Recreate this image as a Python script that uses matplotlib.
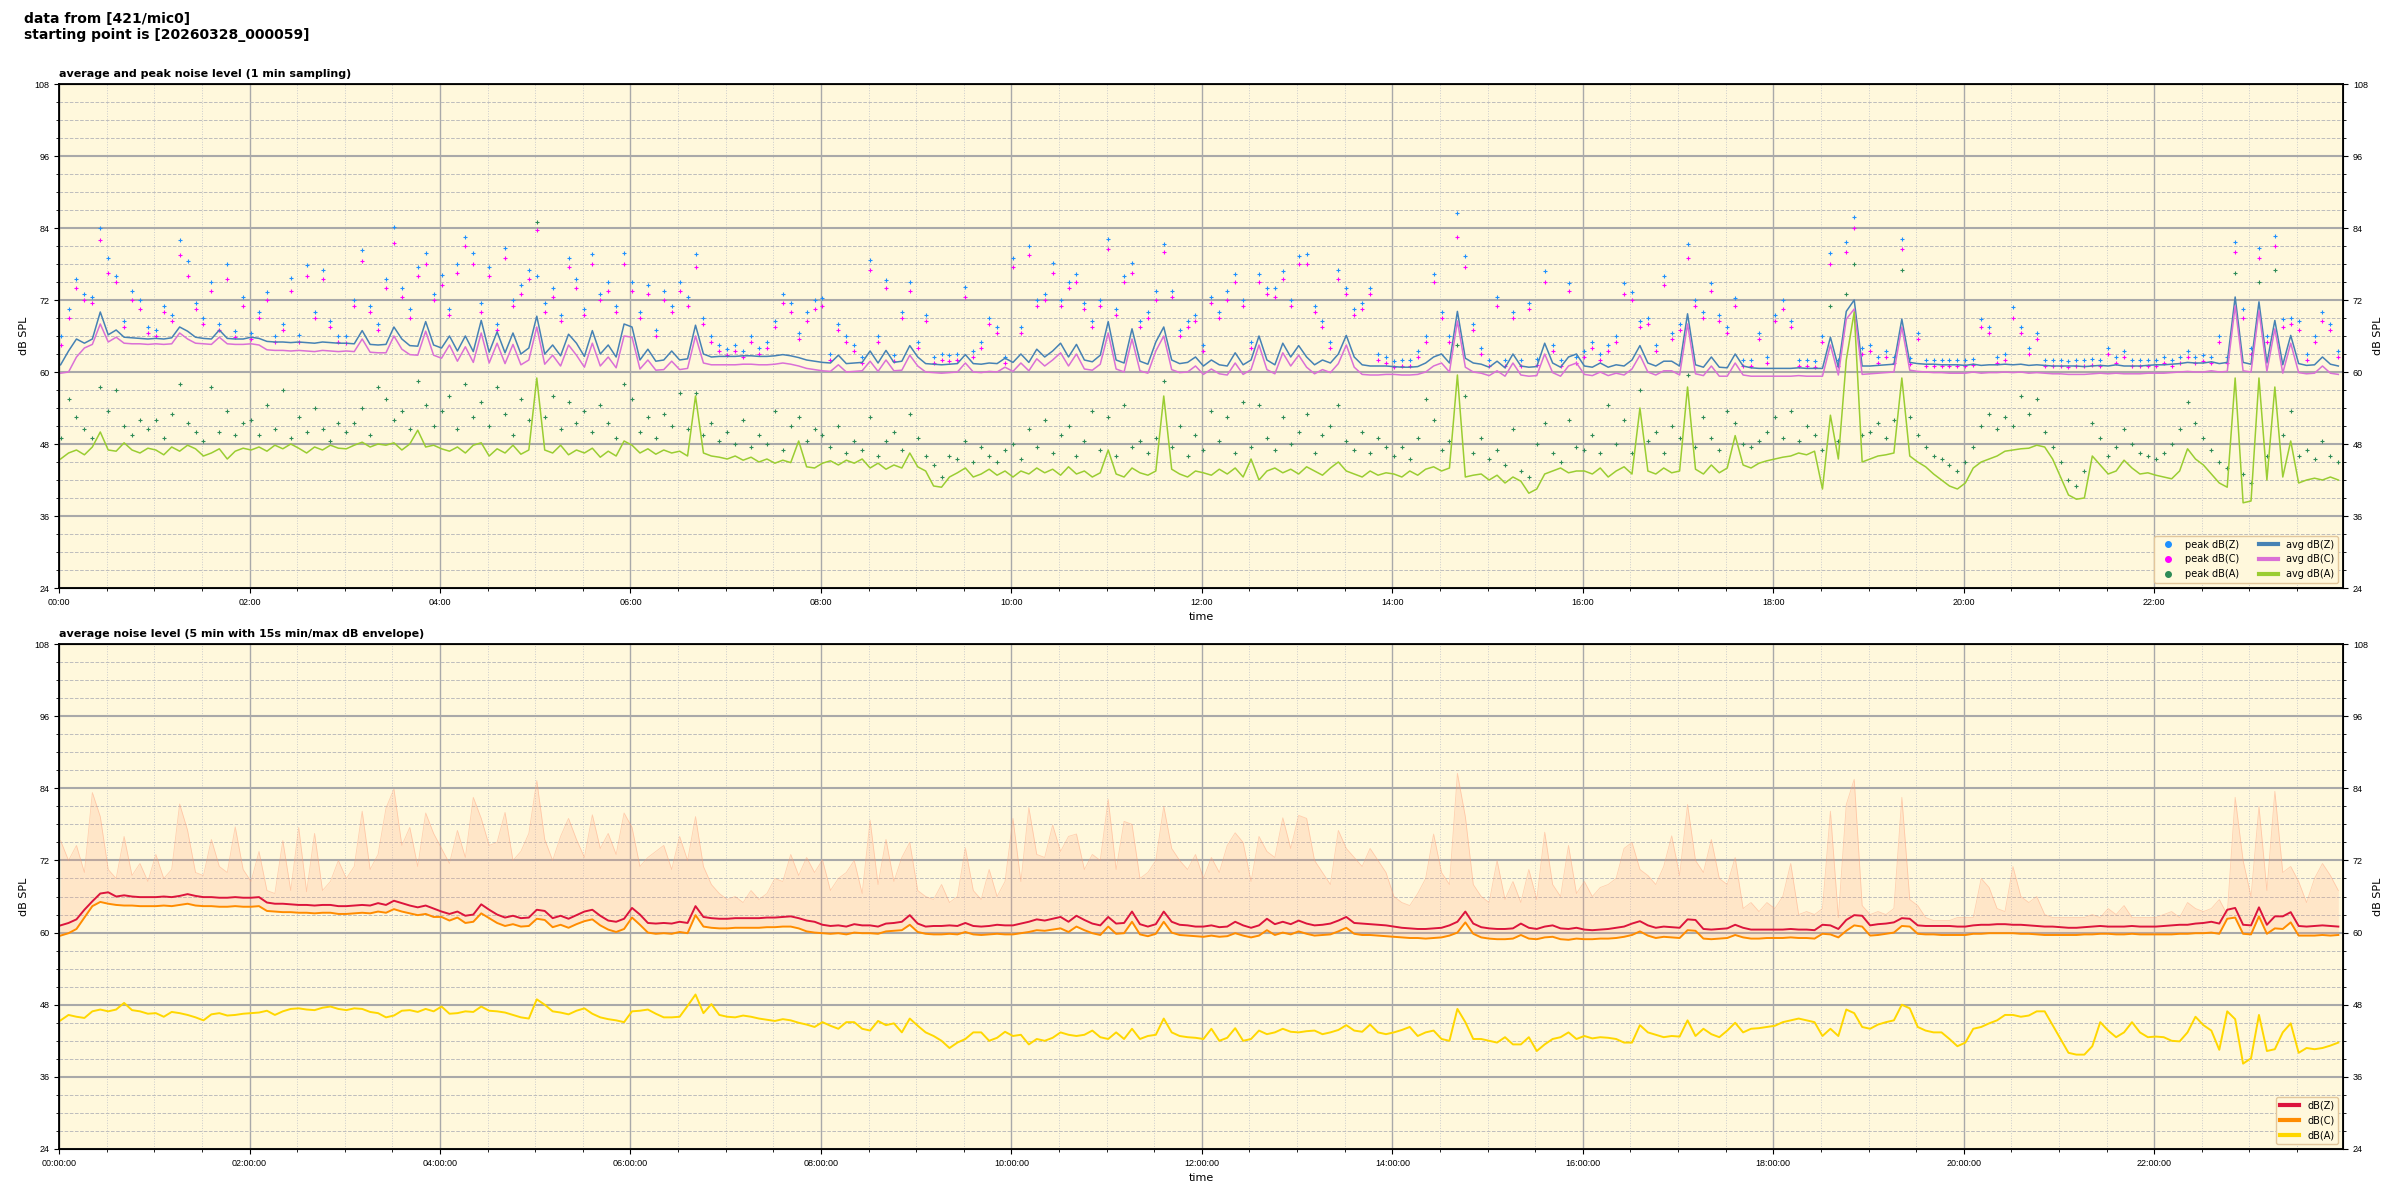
import pandas as pd
import matplotlib
matplotlib.use("Agg")
import matplotlib.pyplot as plt
import matplotlib.dates as mdates
from matplotlib.ticker import MultipleLocator
from matplotlib.lines import Line2D
from matplotlib import font_manager

# values, one per 5 minutes (00:00:59 ... 23:55:59)
START = "2026-03-28 00:00:59"

# top panel: 1 min sampling (average lines)
avg_z = [
    61.2, 63.5, 65.5, 64.8, 65.5, 70.0, 66.2, 67.0, 65.8, 65.7, 65.6, 65.5,
    65.6, 65.5, 65.7, 67.5, 66.8, 65.8, 65.6, 65.5, 67.0, 65.6, 65.5, 65.5,
    65.8, 65.6, 65.1, 65.0, 65.0, 64.9, 65.0, 64.9, 64.8, 65.0, 64.9, 64.8,
    64.8, 64.7, 66.9, 64.6, 64.5, 64.6, 67.5, 65.5, 64.4, 64.3, 68.4, 64.5,
    64.0, 66.0, 63.5, 66.0, 63.4, 68.6, 63.3, 66.7, 63.2, 66.5, 63.0, 64.0,
    69.3, 63.0, 64.5, 62.7, 66.3, 64.8, 62.6, 66.9, 63.0, 64.5, 62.5, 68.0,
    67.5, 62.0, 63.8, 61.8, 62.0, 63.5, 62.0, 62.2, 67.8, 63.0, 62.5, 62.6,
    62.6, 62.6, 62.7, 62.7, 62.6, 62.6, 62.7, 62.9, 62.7, 62.4, 62.0, 61.8,
    61.6, 61.5, 62.8, 61.4, 61.5, 61.6, 63.5, 61.5, 63.6, 61.6, 61.8, 64.4,
    62.5, 61.4, 61.3, 61.2, 61.3, 61.4, 62.9, 61.4, 61.3, 61.5, 61.4, 62.3,
    61.6, 63.0, 61.6, 63.8, 62.5, 63.5, 64.8, 62.5, 64.6, 62.0, 61.7, 62.8,
    68.4, 62.0, 61.5, 67.2, 61.8, 61.3, 65.0, 67.5, 62.0, 61.4, 61.6, 62.5,
    61.0, 62.0, 61.2, 61.0, 63.2, 61.2, 62.0, 66.0, 62.0, 61.2, 64.8, 62.5,
    64.4, 62.5, 61.2, 62.0, 61.5, 63.0, 66.1, 62.5, 61.2, 61.0, 61.0, 61.0,
    60.9, 60.8, 60.8, 60.9, 61.5, 62.5, 63.0, 61.5, 70.1, 62.3, 61.5, 61.3,
    60.8, 61.8, 60.7, 63.0, 61.0, 60.8, 60.9, 64.8, 61.5, 60.8, 62.5, 63.0,
    61.0, 60.8, 61.5, 60.8, 61.2, 61.0, 62.0, 64.4, 61.5, 61.0, 61.8, 61.8,
    61.0, 69.7, 61.2, 60.8, 62.5, 60.8, 60.7, 63.0, 61.0, 60.7, 60.6, 60.6,
    60.6, 60.6, 60.6, 60.7, 60.6, 60.6, 60.6, 65.8, 60.8, 70.1, 72.0, 61.0,
    61.0, 61.1, 61.2, 61.3, 68.8, 61.6, 61.4, 61.3, 61.3, 61.2, 61.2, 61.2,
    61.1, 61.3, 61.1, 61.2, 61.2, 61.3, 61.2, 61.3, 61.1, 61.2, 61.1, 61.0,
    61.0, 61.0, 61.0, 60.9, 61.0, 61.1, 61.0, 61.2, 61.0, 61.0, 61.0, 61.1,
    61.2, 61.2, 61.3, 61.4, 61.6, 61.5, 61.5, 61.7, 61.4, 61.6, 72.5, 61.6,
    61.3, 71.7, 61.5, 68.6, 61.2, 66.1, 61.4, 61.1, 61.2, 62.5, 61.3, 61.0,
]
avg_c = [
    59.8, 60.0, 62.5, 64.0, 64.6, 68.0, 65.0, 65.8, 64.8, 64.7, 64.7, 64.6,
    64.7, 64.6, 64.7, 66.5, 65.5, 64.8, 64.7, 64.6, 65.8, 64.7, 64.6, 64.6,
    64.7, 64.5, 63.7, 63.6, 63.6, 63.5, 63.6, 63.5, 63.4, 63.6, 63.5, 63.4,
    63.5, 63.4, 65.5, 63.3, 63.2, 63.2, 66.0, 63.8, 62.9, 62.8, 66.8, 62.8,
    62.3, 64.5, 61.8, 64.2, 61.6, 66.5, 61.5, 64.8, 61.4, 64.6, 61.2, 62.0,
    67.5, 61.3, 62.8, 61.0, 64.5, 62.8, 60.8, 64.8, 61.0, 62.5, 60.7, 66.0,
    65.8, 60.5, 62.0, 60.3, 60.4, 61.8, 60.4, 60.6, 66.0, 61.5, 61.2, 61.2,
    61.2, 61.2, 61.3, 61.3, 61.2, 61.2, 61.3, 61.5, 61.3, 61.0, 60.6, 60.4,
    60.2, 60.1, 61.2, 60.0, 60.1, 60.2, 61.8, 60.1, 62.0, 60.2, 60.3, 62.8,
    61.0, 60.0, 59.9, 59.8, 59.9, 60.0, 61.5, 60.0, 59.9, 60.1, 60.0, 60.8,
    60.1, 61.5, 60.2, 62.2, 61.0, 62.0, 63.2, 61.0, 63.0, 60.5, 60.3, 61.3,
    66.5, 60.5, 60.0, 65.5, 60.2, 59.8, 63.5, 66.0, 60.4, 59.9, 60.0, 61.0,
    59.6, 60.5, 59.7, 59.5, 61.5, 59.6, 60.4, 64.5, 60.4, 59.7, 63.2, 61.0,
    62.8, 60.8, 59.7, 60.4, 59.9, 61.4, 64.5, 60.8, 59.6, 59.5, 59.5, 59.6,
    59.6, 59.5, 59.5, 59.6, 60.0, 61.0, 61.5, 60.0, 68.5, 60.8, 60.0, 59.8,
    59.4, 60.2, 59.3, 61.5, 59.5, 59.3, 59.4, 63.0, 59.9, 59.3, 61.0, 61.5,
    59.6, 59.4, 60.0, 59.4, 59.8, 59.5, 60.5, 62.8, 60.0, 59.5, 60.2, 60.2,
    59.5, 68.0, 59.7, 59.4, 61.0, 59.3, 59.3, 61.5, 59.5, 59.3, 59.3, 59.3,
    59.3, 59.3, 59.3, 59.4, 59.3, 59.3, 59.3, 64.5, 59.5, 68.8, 70.5, 59.6,
    59.7, 59.8, 59.9, 60.0, 67.5, 60.3, 60.1, 60.0, 59.9, 59.9, 59.8, 59.8,
    59.8, 60.0, 59.8, 59.9, 59.9, 60.0, 59.9, 60.0, 59.8, 59.9, 59.8, 59.7,
    59.7, 59.6, 59.6, 59.6, 59.7, 59.8, 59.7, 59.8, 59.7, 59.7, 59.7, 59.8,
    59.8, 59.8, 59.9, 60.0, 60.1, 60.0, 60.0, 60.2, 60.0, 60.1, 71.0, 60.2,
    60.0, 70.2, 60.1, 67.2, 59.8, 64.8, 59.9, 59.7, 59.8, 61.0, 59.8, 59.6,
]
avg_a = [
    45.5, 46.5, 47.0, 46.2, 47.5, 50.0, 47.0, 46.8, 48.2, 47.0, 46.5, 47.3,
    47.0, 46.2, 47.5, 46.8, 47.8, 47.2, 46.0, 46.5, 47.2, 45.5, 46.8, 47.3,
    47.0, 47.5, 46.8, 47.8, 47.2, 48.0, 47.3, 46.5, 47.5, 47.0, 47.8, 47.3,
    47.2, 47.8, 48.3, 47.5, 48.0, 47.8, 48.2, 47.0, 48.0, 50.3, 47.5, 47.8,
    47.2, 46.8, 47.5, 46.5, 47.8, 48.2, 46.0, 47.2, 46.5, 47.8, 46.3, 47.0,
    59.0, 47.0, 46.5, 47.8, 46.2, 47.0, 46.5, 47.3, 45.8, 46.8, 46.0, 48.5,
    47.8, 46.5, 47.2, 46.3, 47.0, 46.5, 46.8, 46.0, 56.0, 46.5, 46.0, 45.8,
    45.5, 46.0, 45.3, 45.8, 45.0, 45.5, 44.8, 45.3, 44.9, 48.5, 44.2, 44.0,
    44.8, 45.2, 44.5, 45.3, 44.8, 45.5, 44.0, 44.8, 43.8, 44.5, 44.0, 46.5,
    44.2, 43.5, 41.0, 40.8, 42.5, 43.2, 44.0, 42.5, 43.0, 43.8, 42.8, 43.5,
    42.5, 43.5, 43.0, 44.0, 43.2, 43.8, 42.8, 44.2, 43.0, 43.5, 42.5, 43.2,
    47.0, 43.0, 42.5, 44.0, 43.2, 42.8, 43.5, 56.0, 43.8, 43.0, 42.5, 43.5,
    43.2, 42.8, 43.8, 43.0, 44.0, 42.5, 45.5, 42.0, 43.5, 44.0, 43.2, 43.8,
    43.0, 44.2, 43.5, 42.8, 44.0, 45.0, 43.5, 43.0, 42.5, 43.5, 42.8, 43.2,
    43.0, 42.5, 43.5, 42.8, 43.8, 44.2, 43.5, 44.0, 59.5, 42.5, 42.8, 43.0,
    42.0, 42.8, 41.5, 42.5, 41.8, 39.8, 40.5, 43.0, 43.5, 44.0, 43.2, 43.5,
    43.5, 43.0, 44.0, 42.5, 43.5, 44.2, 43.0, 54.0, 43.5, 43.0, 44.0, 43.2,
    43.5, 57.5, 43.8, 43.0, 44.5, 43.2, 44.0, 49.4, 44.5, 44.0, 44.8, 45.2,
    45.5, 45.8, 46.0, 46.5, 46.2, 46.8, 40.5, 52.8, 45.5, 62.0, 70.0, 45.0,
    45.5, 46.0, 46.2, 46.5, 59.0, 46.0, 45.0, 44.2, 43.0, 42.0, 41.0, 40.5,
    41.5, 44.0, 45.0, 45.5, 46.0, 46.8, 47.0, 47.2, 47.3, 47.8, 47.5, 45.5,
    42.5, 39.5, 38.8, 39.0, 46.0, 44.5, 43.0, 43.5, 45.3, 44.0, 43.0, 43.2,
    42.8, 42.5, 42.2, 43.5, 47.2, 45.5, 44.5, 43.0, 41.5, 40.8, 59.0, 38.2,
    38.5, 59.0, 42.0, 57.5, 42.5, 48.5, 41.5, 42.0, 42.3, 42.0, 42.5, 42.0,
]

# top panel: peak values
peak_z = [
    66.0, 70.5, 75.5, 73.0, 72.5, 84.0, 79.0, 76.0, 68.5, 73.5, 72.0, 67.5,
    67.0, 71.0, 69.5, 82.0, 78.5, 71.5, 69.0, 75.0, 68.0, 78.0, 66.8, 72.5,
    66.5, 70.0, 73.4, 66.0, 68.0, 75.6, 66.2, 77.9, 70.0, 77.0, 68.5, 66.0,
    66.0, 72.0, 80.4, 71.0, 68.0, 75.5, 84.1, 74.0, 70.5, 77.5, 79.9, 73.0,
    76.1, 70.5, 78.0, 82.5, 79.9, 71.5, 77.5, 68.0, 80.7, 72.0, 74.5, 77.0,
    76.0, 71.5, 74.0, 69.5, 79.0, 75.5, 70.5, 79.6, 73.0, 75.0, 71.0, 79.9,
    75.0, 70.0, 74.5, 67.0, 73.5, 71.0, 75.0, 72.5, 79.6, 69.0, 66.0, 64.5,
    63.8, 64.5, 63.5, 66.0, 64.0, 65.0, 68.5, 73.0, 71.5, 66.5, 70.0, 72.0,
    72.4, 63.0, 68.0, 66.0, 64.5, 62.5, 78.7, 66.0, 75.3, 62.8, 70.0, 75.0,
    65.0, 69.5, 62.5, 63.0, 62.8, 63.0, 74.1, 63.5, 65.0, 69.0, 67.5, 62.5,
    79.0, 67.5, 81.0, 72.0, 73.0, 78.1, 72.0, 75.0, 76.4, 71.5, 68.5, 72.0,
    82.2, 70.5, 76.0, 78.1, 68.5, 70.0, 73.5, 81.3, 73.5, 67.0, 68.5, 69.5,
    64.5, 72.5, 70.0, 73.5, 76.4, 72.0, 65.0, 76.4, 74.0, 74.0, 76.8, 72.0,
    79.3, 79.6, 71.0, 68.5, 65.0, 77.0, 74.0, 70.5, 71.5, 74.0, 63.0, 62.5,
    61.8, 62.0, 62.0, 63.5, 66.0, 76.4, 70.0, 66.0, 86.5, 79.3, 68.0, 64.0,
    62.0, 72.5, 62.0, 70.0, 62.0, 71.5, 62.2, 76.9, 64.5, 62.0, 74.8, 62.5,
    63.5, 65.0, 63.0, 64.5, 66.0, 74.8, 73.3, 68.5, 69.0, 64.5, 76.0, 66.5,
    68.0, 81.3, 72.0, 70.0, 74.8, 69.5, 67.5, 72.3, 62.0, 62.0, 66.5, 62.5,
    69.5, 72.0, 68.5, 62.0, 62.0, 61.8, 66.0, 79.9, 62.0, 81.6, 85.9, 64.0,
    64.5, 62.5, 63.5, 62.5, 82.2, 62.3, 66.5, 62.0, 62.0, 62.0, 62.0, 62.0,
    62.0, 62.2, 68.8, 67.5, 62.5, 63.0, 70.8, 67.5, 64.0, 66.5, 62.0, 62.0,
    62.0, 61.8, 62.0, 62.0, 62.2, 62.0, 64.0, 62.5, 63.5, 62.0, 62.0, 62.0,
    62.0, 62.5, 62.0, 62.5, 63.5, 62.5, 62.8, 62.5, 66.0, 62.5, 81.6, 70.5,
    64.0, 80.7, 66.0, 82.7, 68.8, 69.0, 68.5, 63.0, 66.0, 70.0, 68.0, 63.5,
]
peak_c = [
    64.5, 69.0, 74.0, 72.0, 71.5, 82.0, 76.5, 75.0, 67.5, 72.0, 70.5, 66.5,
    66.0, 70.0, 68.5, 79.5, 76.0, 70.5, 68.0, 73.5, 67.0, 75.5, 65.8, 71.0,
    65.5, 69.0, 72.0, 65.0, 67.0, 73.5, 65.0, 76.0, 69.0, 75.5, 67.5, 65.0,
    64.8, 71.0, 78.5, 70.0, 67.0, 74.0, 81.5, 72.5, 69.0, 76.0, 78.0, 72.0,
    74.5, 69.5, 76.5, 81.0, 78.0, 70.0, 76.0, 67.0, 79.0, 71.0, 73.0, 75.5,
    83.6, 70.0, 72.5, 68.5, 77.5, 74.0, 69.5, 78.0, 72.0, 73.5, 70.0, 78.0,
    73.5, 69.0, 73.0, 66.0, 72.0, 70.0, 73.5, 71.0, 77.5, 68.0, 65.0, 63.5,
    62.8, 63.5, 62.5, 65.0, 63.0, 64.0, 67.5, 71.5, 70.0, 65.5, 68.5, 70.5,
    71.0, 62.0, 67.0, 65.0, 63.5, 61.5, 77.0, 65.0, 74.0, 61.8, 69.0, 73.5,
    64.0, 68.5, 61.5, 62.0, 61.8, 62.0, 72.5, 62.5, 64.0, 68.0, 66.5, 61.5,
    77.5, 66.5, 79.5, 71.0, 72.0, 76.5, 71.0, 74.0, 75.0, 70.5, 67.5, 71.0,
    80.5, 69.5, 75.0, 76.5, 67.5, 69.0, 72.0, 80.0, 72.5, 66.0, 67.5, 68.5,
    63.5, 71.5, 69.0, 72.0, 75.0, 71.0, 64.0, 75.0, 73.0, 72.5, 75.5, 71.0,
    78.0, 78.0, 70.0, 67.5, 64.0, 75.5, 73.0, 69.5, 70.5, 73.0, 62.0, 61.5,
    60.8, 61.0, 61.0, 62.5, 65.0, 75.0, 69.0, 65.0, 82.5, 77.5, 67.0, 63.0,
    61.0, 71.0, 61.0, 69.0, 61.0, 70.5, 61.2, 75.0, 63.5, 61.0, 73.5, 61.5,
    62.5, 64.0, 62.0, 63.5, 65.0, 73.0, 72.0, 67.5, 68.0, 63.5, 74.5, 65.5,
    67.0, 79.0, 71.0, 69.0, 73.5, 68.5, 66.5, 71.0, 61.0, 61.0, 65.5, 61.5,
    68.5, 70.5, 67.5, 61.0, 61.0, 60.8, 65.0, 78.0, 61.0, 80.0, 84.0, 63.0,
    63.5, 61.5, 62.5, 61.5, 80.5, 61.3, 65.5, 61.0, 61.0, 61.0, 61.0, 61.0,
    61.0, 61.2, 67.5, 66.5, 61.5, 62.0, 69.0, 66.5, 63.0, 65.5, 61.0, 61.0,
    61.0, 60.8, 61.0, 61.0, 61.2, 61.0, 63.0, 61.5, 62.5, 61.0, 61.0, 61.0,
    61.0, 61.5, 61.0, 61.5, 62.5, 61.5, 61.8, 61.5, 65.0, 61.5, 80.0, 69.0,
    63.0, 79.0, 65.0, 81.0, 67.5, 68.0, 67.0, 62.0, 65.0, 68.5, 67.0, 62.5,
]
peak_a = [
    49.0, 55.5, 52.5, 50.5, 49.0, 57.5, 53.5, 57.0, 51.0, 49.5, 52.0, 50.5,
    52.0, 49.0, 53.0, 58.0, 51.5, 50.0, 48.5, 57.5, 50.0, 53.5, 49.5, 51.5,
    52.0, 49.5, 54.5, 50.5, 57.0, 49.0, 52.5, 50.0, 54.0, 50.5, 48.5, 51.5,
    50.0, 51.5, 54.0, 49.5, 57.5, 55.5, 52.0, 53.5, 50.5, 58.5, 54.5, 51.0,
    53.5, 56.0, 50.5, 58.0, 52.5, 55.0, 51.0, 57.5, 53.0, 49.5, 55.5, 52.0,
    85.0, 52.5, 56.0, 50.5, 55.0, 51.5, 53.5, 50.0, 54.5, 51.5, 49.0, 58.0,
    55.5, 50.0, 52.5, 49.0, 53.0, 51.0, 56.5, 50.5, 56.5, 49.5, 51.5, 48.5,
    50.0, 48.0, 52.0, 47.5, 49.5, 48.0, 53.5, 47.0, 51.0, 52.5, 48.5, 50.5,
    49.5, 47.5, 51.0, 46.5, 48.5, 47.0, 52.5, 46.0, 48.5, 50.0, 47.0, 53.0,
    49.0, 46.0, 44.5, 42.5, 46.0, 45.5, 48.5, 45.0, 47.5, 46.0, 45.0, 47.0,
    48.0, 45.5, 50.5, 47.5, 52.0, 46.5, 49.5, 51.0, 46.0, 48.5, 53.5, 47.0,
    52.5, 46.0, 54.5, 47.5, 48.5, 46.5, 49.0, 58.5, 47.5, 51.0, 46.0, 49.5,
    47.0, 53.5, 48.5, 52.5, 46.5, 55.0, 47.5, 54.5, 49.0, 47.0, 52.5, 48.0,
    50.0, 53.0, 46.5, 49.5, 51.0, 54.5, 48.5, 47.0, 50.0, 46.5, 49.0, 47.5,
    46.0, 47.5, 45.5, 49.0, 55.5, 52.0, 47.0, 48.5, 64.5, 56.0, 46.5, 49.0,
    45.5, 47.0, 44.5, 50.5, 43.5, 42.5, 48.0, 51.5, 46.5, 45.0, 52.0, 47.5,
    47.0, 49.5, 46.5, 54.5, 48.0, 52.0, 46.5, 57.0, 48.5, 50.0, 46.5, 51.0,
    49.0, 59.5, 47.5, 52.5, 49.0, 47.0, 53.5, 51.5, 48.0, 47.5, 48.5, 50.0,
    52.5, 49.0, 53.5, 48.5, 51.0, 49.5, 47.0, 71.0, 48.5, 73.0, 78.0, 49.5,
    50.0, 51.5, 49.0, 52.0, 77.0, 52.5, 49.5, 47.5, 46.0, 45.5, 44.5, 43.5,
    45.0, 47.5, 51.0, 53.0, 50.5, 52.5, 51.0, 56.0, 53.0, 55.5, 50.0, 47.5,
    45.0, 42.0, 41.0, 43.5, 51.5, 49.0, 46.0, 47.5, 50.5, 48.0, 46.5, 46.0,
    45.5, 46.5, 48.0, 50.5, 55.0, 51.5, 49.0, 47.0, 45.0, 44.0, 76.5, 43.0,
    41.5, 75.0, 46.0, 77.0, 49.5, 53.5, 46.0, 47.0, 45.5, 48.5, 46.0, 45.0,
]

# bottom panel: 5 min averages
bot_z = [
    61.2, 61.6, 62.2, 63.8, 65.2, 66.5, 66.7, 66.0, 66.2, 66.0, 65.9, 65.9,
    65.9, 66.0, 65.9, 66.1, 66.4, 66.1, 65.9, 65.9, 65.8, 65.8, 65.9, 65.8,
    65.8, 65.9, 65.0, 64.8, 64.8, 64.7, 64.6, 64.6, 64.5, 64.6, 64.6, 64.4,
    64.4, 64.5, 64.6, 64.5, 64.9, 64.6, 65.3, 64.9, 64.5, 64.2, 64.5, 64.0,
    63.5, 63.1, 63.5, 62.8, 63.0, 64.7, 63.8, 63.0, 62.5, 62.8, 62.4, 62.5,
    63.8, 63.6, 62.4, 62.8, 62.3, 62.9, 63.5, 63.8, 62.8, 62.0, 61.8, 62.3,
    64.1, 63.0, 61.6, 61.5, 61.6, 61.5, 61.8, 61.6, 64.4, 62.6, 62.4, 62.3,
    62.3, 62.4, 62.4, 62.4, 62.4, 62.5, 62.5, 62.6, 62.7, 62.4, 62.0, 61.8,
    61.3, 61.1, 61.2, 61.0, 61.4, 61.2, 61.2, 61.0, 61.5, 61.6, 61.8, 62.9,
    61.5, 61.0, 61.1, 61.1, 61.2, 61.1, 61.6, 61.1, 61.0, 61.1, 61.3, 61.2,
    61.2, 61.5, 61.8, 62.2, 62.0, 62.3, 62.6, 61.8, 62.8, 62.1, 61.5, 61.2,
    62.6, 61.5, 61.6, 63.5, 61.4, 61.0, 61.4, 63.5, 61.8, 61.3, 61.2, 61.0,
    61.0, 61.2, 60.9, 61.0, 61.8, 61.2, 60.8, 61.2, 62.3, 61.4, 61.8, 61.4,
    62.0, 61.5, 61.2, 61.3, 61.5, 62.0, 62.6, 61.6, 61.5, 61.4, 61.3, 61.2,
    61.0, 60.8, 60.7, 60.6, 60.6, 60.7, 60.8, 61.2, 61.8, 63.5, 61.5, 60.9,
    60.7, 60.6, 60.6, 60.7, 61.5, 60.8, 60.6, 61.0, 61.2, 60.7, 60.6, 60.8,
    60.5, 60.4, 60.5, 60.6, 60.8, 61.0, 61.5, 61.9, 61.2, 60.8, 61.0, 60.9,
    60.8, 62.2, 62.1, 60.6, 60.5, 60.6, 60.7, 61.3, 60.8, 60.5, 60.5, 60.5,
    60.5, 60.5, 60.6, 60.5, 60.5, 60.4, 61.3, 61.2, 60.6, 62.1, 62.9, 62.8,
    61.2, 61.4, 61.5, 61.7, 62.4, 62.3, 61.2, 61.1, 61.1, 61.1, 61.1, 61.0,
    61.0, 61.2, 61.3, 61.3, 61.4, 61.4, 61.3, 61.3, 61.2, 61.1, 61.0, 61.0,
    60.9, 60.8, 60.8, 60.9, 61.0, 61.1, 61.0, 61.0, 61.0, 61.1, 61.0, 61.0,
    61.0, 61.1, 61.2, 61.3, 61.3, 61.5, 61.6, 61.8, 61.5, 63.8, 64.1, 61.3,
    61.2, 64.2, 61.3, 62.7, 62.7, 63.4, 61.1, 61.0, 61.1, 61.2, 61.1, 61.0,
]
bot_c = [
    59.5, 59.9, 60.6, 62.5, 64.4, 65.1, 64.8, 64.6, 64.5, 64.5, 64.4, 64.4,
    64.4, 64.5, 64.4, 64.6, 64.8, 64.5, 64.4, 64.4, 64.3, 64.3, 64.4, 64.3,
    64.3, 64.4, 63.6, 63.5, 63.4, 63.4, 63.3, 63.3, 63.2, 63.3, 63.3, 63.1,
    63.1, 63.2, 63.3, 63.2, 63.5, 63.3, 63.9, 63.5, 63.2, 62.9, 63.1, 62.6,
    62.6, 62.0, 62.5, 61.6, 61.8, 63.2, 62.4, 61.6, 61.1, 61.4, 61.0, 61.1,
    62.3, 62.1, 60.9, 61.3, 60.8, 61.4, 61.9, 62.2, 61.2, 60.5, 60.1, 60.6,
    62.5, 61.3, 60.0, 59.8, 59.9, 59.8, 60.1, 59.9, 62.9, 61.0, 60.8, 60.7,
    60.7, 60.8, 60.8, 60.8, 60.8, 60.9, 60.9, 61.0, 61.0, 60.7, 60.2, 60.0,
    59.9, 59.8, 59.9, 59.7, 60.0, 59.9, 59.9, 59.8, 60.2, 60.3, 60.4, 61.3,
    60.1, 59.8, 59.7, 59.7, 59.8, 59.7, 60.1, 59.7, 59.6, 59.7, 59.8, 59.7,
    59.7, 59.9, 60.1, 60.4, 60.3, 60.5, 60.7, 60.1, 61.0, 60.4, 59.9, 59.6,
    61.0, 59.8, 59.9, 61.8, 59.7, 59.4, 59.8, 61.8, 60.0, 59.6, 59.5, 59.4,
    59.3, 59.5, 59.3, 59.4, 59.9, 59.5, 59.2, 59.5, 60.4, 59.6, 60.0, 59.7,
    60.2, 59.8, 59.5, 59.6, 59.7, 60.2, 60.8, 59.8, 59.6, 59.6, 59.5, 59.4,
    59.3, 59.2, 59.1, 59.1, 59.0, 59.1, 59.2, 59.5, 60.0, 61.7, 59.8, 59.2,
    59.0, 58.9, 58.9, 59.0, 59.6, 59.0, 58.9, 59.2, 59.3, 58.9, 58.8, 59.0,
    58.9, 58.9, 59.0, 59.0, 59.1, 59.3, 59.6, 60.2, 59.5, 59.1, 59.3, 59.2,
    59.1, 60.4, 60.3, 59.0, 58.9, 59.0, 59.1, 59.6, 59.2, 59.0, 59.0, 59.1,
    59.1, 59.1, 59.2, 59.1, 59.1, 59.0, 59.8, 59.7, 59.2, 60.3, 61.2, 61.0,
    59.5, 59.6, 59.8, 60.0, 61.1, 61.0, 59.8, 59.7, 59.7, 59.6, 59.6, 59.6,
    59.6, 59.8, 59.8, 59.9, 59.9, 59.9, 59.9, 59.8, 59.8, 59.7, 59.6, 59.6,
    59.6, 59.6, 59.6, 59.7, 59.7, 59.8, 59.8, 59.7, 59.7, 59.8, 59.7, 59.7,
    59.7, 59.7, 59.7, 59.8, 59.8, 59.9, 59.9, 60.0, 59.8, 62.3, 62.5, 59.8,
    59.7, 62.7, 59.8, 60.7, 60.6, 61.7, 59.5, 59.5, 59.5, 59.6, 59.5, 59.6,
]
bot_a = [
    45.4, 46.3, 46.0, 45.8, 46.9, 47.2, 46.9, 47.2, 48.3, 47.1, 46.9, 46.5,
    46.6, 46.0, 46.8, 46.6, 46.3, 45.9, 45.4, 46.4, 46.6, 46.2, 46.3, 46.5,
    46.6, 46.7, 47.0, 46.3, 46.9, 47.3, 47.4, 47.2, 47.1, 47.5, 47.7, 47.3,
    47.1, 47.4, 47.3, 46.8, 46.6, 45.9, 46.2, 47.0, 47.1, 46.8, 47.3, 46.9,
    47.7, 46.5, 46.6, 46.9, 46.8, 47.7, 47.0, 46.9, 46.7, 46.3, 45.9, 45.7,
    48.9, 48.0, 46.9, 46.7, 46.4, 47.0, 47.4, 46.5, 45.9, 45.6, 45.4, 45.1,
    46.9, 47.0, 47.2, 46.5, 45.9, 45.9, 46.0, 47.8, 49.7, 46.6, 48.1, 46.3,
    46.0, 45.9, 46.2, 46.0, 45.7, 45.5, 45.3, 45.6, 45.4, 45.0, 44.7, 44.3,
    45.1, 44.5, 44.0, 45.1, 45.1, 44.0, 43.7, 45.3, 44.6, 44.9, 43.4, 45.7,
    44.5, 43.4, 42.8, 42.0, 40.8, 41.7, 42.3, 43.4, 43.4, 42.0, 42.5, 43.5,
    42.8, 43.0, 41.4, 42.3, 42.0, 42.5, 43.4, 43.0, 42.8, 43.0, 43.7, 42.6,
    42.3, 43.4, 42.3, 44.0, 42.3, 42.8, 43.0, 45.7, 43.4, 42.8, 42.6, 42.5,
    42.3, 44.0, 42.0, 42.5, 44.1, 42.0, 42.3, 43.7, 43.1, 43.4, 44.0, 43.5,
    43.4, 43.6, 43.7, 43.1, 43.4, 43.8, 44.6, 43.7, 43.5, 44.7, 43.4, 43.1,
    43.4, 43.8, 44.3, 42.8, 43.4, 43.7, 42.3, 42.0, 47.3, 45.1, 42.3, 42.3,
    42.0, 41.7, 42.6, 41.4, 41.4, 42.6, 40.3, 41.4, 42.3, 42.6, 43.4, 42.3,
    42.8, 42.4, 42.6, 42.5, 42.3, 41.7, 41.7, 44.6, 43.4, 43.0, 42.6, 42.8,
    42.7, 45.4, 42.8, 44.0, 43.1, 42.6, 43.7, 45.0, 43.4, 44.0, 44.1, 44.3,
    44.5, 45.1, 45.4, 45.7, 45.4, 45.1, 42.8, 44.0, 42.8, 47.2, 46.6, 44.3,
    44.0, 44.7, 45.1, 45.4, 48.0, 47.4, 44.3, 43.7, 43.4, 43.4, 42.3, 41.1,
    41.7, 44.0, 44.3, 44.9, 45.4, 46.3, 46.3, 46.0, 46.2, 46.9, 46.9, 44.6,
    42.3, 40.0, 39.7, 39.7, 41.1, 45.1, 43.7, 42.6, 43.4, 45.1, 43.4, 42.6,
    42.7, 42.6, 42.0, 41.9, 43.4, 46.0, 44.6, 43.7, 40.5, 46.9, 45.6, 38.2,
    39.1, 46.3, 40.3, 40.6, 43.4, 44.9, 40.0, 40.8, 40.6, 40.8, 41.2, 41.7,
]
# bottom panel: 15 s max envelope
env_max = [
    75.3, 72.0, 74.5, 70.0, 83.3, 79.3, 70.5, 69.0, 76.0, 69.5, 71.5, 68.5,
    73.0, 69.0, 70.5, 81.4, 77.0, 70.0, 69.5, 75.5, 71.0, 70.0, 77.6, 70.5,
    68.5, 73.5, 67.0, 66.5, 75.3, 67.0, 77.5, 66.8, 76.5, 67.0, 68.5, 72.0,
    69.0, 71.0, 80.2, 70.5, 73.0, 80.7, 83.9, 74.5, 77.5, 71.0, 79.9, 76.5,
    74.0, 71.5, 77.0, 72.5, 82.5, 79.0, 74.5, 75.0, 80.0, 72.0, 73.5, 76.5,
    85.3, 75.5, 72.0, 76.0, 79.0, 75.5, 72.5, 79.6, 74.0, 76.5, 73.0, 79.9,
    77.5, 71.0, 72.5, 73.5, 74.5, 70.5, 76.0, 72.0, 79.3, 71.0, 68.0, 66.5,
    65.5, 66.0, 65.0, 67.0, 65.5, 66.5, 69.0, 68.5, 73.0, 69.5, 72.5, 70.0,
    72.1, 67.0, 69.0, 70.0, 72.0, 66.5, 78.7, 68.0, 75.5, 68.5, 72.5, 75.0,
    67.0, 66.0, 65.5, 68.0, 65.0, 66.0, 74.1, 67.0, 65.5, 70.5, 66.0, 68.5,
    79.0, 68.5, 80.8, 73.0, 72.5, 77.9, 73.5, 76.0, 76.4, 70.5, 73.0, 72.0,
    82.2, 70.5, 78.5, 78.0, 69.0, 70.0, 72.0, 81.0, 74.0, 72.0, 70.5, 73.0,
    69.0, 72.5, 70.0, 74.5, 76.6, 75.0, 68.5, 76.0, 73.5, 72.5, 79.1, 74.0,
    79.5, 79.0, 72.0, 70.0, 68.0, 77.0, 74.0, 72.5, 71.0, 74.0, 72.0, 70.0,
    66.0, 65.0, 64.5, 66.5, 69.0, 76.4, 70.0, 68.0, 86.5, 79.3, 68.0, 66.0,
    65.0, 72.0, 65.5, 68.5, 65.0, 70.5, 65.5, 76.7, 68.0, 66.0, 74.5, 66.5,
    68.5, 66.0, 67.5, 68.0, 69.0, 74.0, 75.0, 70.5, 69.5, 68.0, 71.0, 76.1,
    69.5, 81.3, 72.0, 70.0, 75.5, 69.0, 68.0, 72.5, 64.0, 65.0, 63.5, 65.0,
    64.0, 66.0, 71.5, 63.0, 63.5, 63.0, 64.0, 80.2, 62.5, 81.3, 85.5, 64.5,
    63.0, 63.5, 63.0, 64.0, 82.5, 65.5, 64.5, 62.5, 62.0, 62.0, 62.0, 62.5,
    62.5, 62.5, 69.0, 67.5, 64.0, 63.5, 71.0, 66.0, 65.0, 66.0, 63.0, 62.5,
    62.5, 62.5, 62.5, 62.5, 63.0, 62.5, 64.0, 63.0, 64.5, 62.5, 62.5, 62.5,
    62.5, 63.0, 63.5, 62.5, 65.0, 64.0, 63.5, 64.0, 65.5, 63.0, 82.5, 72.0,
    66.0, 81.0, 67.0, 83.5, 70.0, 71.0, 68.5, 65.0, 69.0, 71.5, 69.5, 67.0,
]

times = pd.date_range(START, periods=len(avg_z), freq="5min")
day0 = pd.Timestamp("2026-03-28 00:00:00")
day1 = pd.Timestamp("2026-03-28 23:59:00")

BG = "#fff8dc"
names = {f.name for f in font_manager.fontManager.ttflist}
tick_font = "Liberation Sans" if "Liberation Sans" in names else "DejaVu Sans"


def style_axes(ax, fmt):
    ax.set_facecolor(BG)
    ax.set_xlim(day0, day1)
    ax.set_ylim(24, 108)
    ax.yaxis.set_major_locator(MultipleLocator(12))
    ax.yaxis.set_minor_locator(MultipleLocator(3))
    ax.xaxis.set_major_locator(mdates.HourLocator(byhour=range(0, 24, 2)))
    ax.xaxis.set_minor_locator(mdates.MinuteLocator(byminute=[0, 30]))
    ax.xaxis.set_major_formatter(mdates.DateFormatter(fmt))
    ax.grid(which="major", axis="y", color="#a9a9a9", lw=1.5)
    ax.grid(which="minor", axis="y", color="#bdbdbd", lw=0.7, ls="--")
    ax.grid(which="major", axis="x", color="#a9a9a9", lw=1.0)
    ax.grid(which="minor", axis="x", color="#cccccc", lw=0.7, ls=":")
    ax.set_axisbelow(True)
    ax.tick_params(which="both", labelsize=6.5, labelfontfamily=tick_font)
    for s in ax.spines.values():
        s.set_linewidth(1.3)
    ax.set_xlabel("time", fontsize=8)
    ax.set_ylabel("dB SPL", fontsize=8)
    # right hand scale
    tw = ax.twinx()
    tw.set_ylim(24, 108)
    tw.yaxis.set_major_locator(MultipleLocator(12))
    tw.yaxis.set_minor_locator(MultipleLocator(3))
    tw.tick_params(which="both", labelsize=6.5, labelfontfamily=tick_font)
    tw.set_ylabel("dB SPL", fontsize=8)
    return tw


fig = plt.figure(figsize=(24, 12), dpi=100)
fig.text(0.01, 0.99, "data from [421/mic0]\nstarting point is [20260328_000059]",
         fontsize=10, fontweight="bold", va="top", ha="left")

# ---- top: average and peak ----
ax1 = fig.add_axes([0.0246, 0.51, 0.9517, 0.42])
ax1.plot(times, peak_z, "+", color="dodgerblue", ms=3, mew=0.8)
ax1.plot(times, peak_c, "+", color="magenta", ms=3, mew=0.8)
ax1.plot(times, peak_a, "+", color="seagreen", ms=3, mew=0.8)
ax1.plot(times, avg_z, color="steelblue", lw=1.1)
ax1.plot(times, avg_c, color="orchid", lw=1.1)
ax1.plot(times, avg_a, color="yellowgreen", lw=1.1)
ax1.set_title("average and peak noise level (1 min sampling)", loc="left",
              fontsize=8, fontweight="bold", pad=5)
style_axes(ax1, "%H:%M")
h1 = [
    Line2D([], [], ls="", marker="o", ms=4, color="dodgerblue", label="peak dB(Z)"),
    Line2D([], [], ls="", marker="o", ms=4, color="magenta", label="peak dB(C)"),
    Line2D([], [], ls="", marker="o", ms=4, color="seagreen", label="peak dB(A)"),
    Line2D([], [], color="steelblue", lw=3, label="avg dB(Z)"),
    Line2D([], [], color="orchid", lw=3, label="avg dB(C)"),
    Line2D([], [], color="yellowgreen", lw=3, label="avg dB(A)"),
]
leg = ax1.legend(handles=h1, ncol=2, loc="lower right", fontsize=7,
                 facecolor=BG, edgecolor="#e3c79b", framealpha=1)
leg.set_zorder(10)

# ---- bottom: 5 min averages with envelope ----
ax2 = fig.add_axes([0.0246, 0.0425, 0.9517, 0.4208])
ax2.fill_between(times, bot_c, env_max, color="lightsalmon", alpha=0.2, lw=0)
ax2.plot(times, env_max, color="lightsalmon", lw=0.6, alpha=0.45)
ax2.plot(times, bot_z, color="crimson", lw=1.4, label="dB(Z)")
ax2.plot(times, bot_c, color="darkorange", lw=1.4, label="dB(C)")
ax2.plot(times, bot_a, color="gold", lw=1.4, label="dB(A)")
ax2.set_title("average noise level (5 min with 15s min/max dB envelope)", loc="left",
              fontsize=8, fontweight="bold", pad=5)
style_axes(ax2, "%H:%M:%S")
h2 = [
    Line2D([], [], color="crimson", lw=3, label="dB(Z)"),
    Line2D([], [], color="darkorange", lw=3, label="dB(C)"),
    Line2D([], [], color="gold", lw=3, label="dB(A)"),
]
ax2.legend(handles=h2, loc="lower right", fontsize=7,
           facecolor=BG, edgecolor="#e3c79b", framealpha=1)

fig.savefig("out.png", dpi=100)
